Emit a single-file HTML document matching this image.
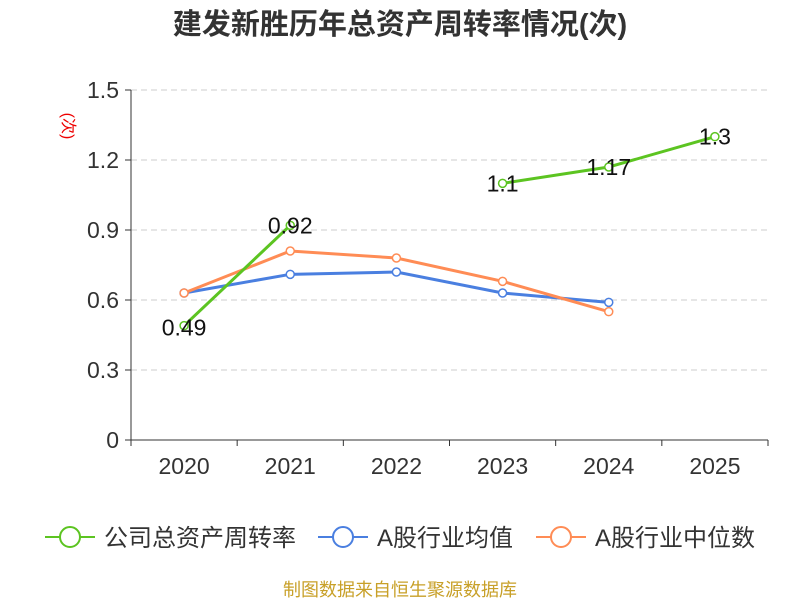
<!DOCTYPE html>
<html><head><meta charset="utf-8"><style>
body{margin:0;background:#fff;font-family:"Liberation Sans","Noto Sans CJK SC",sans-serif;}
svg text{font-family:"Liberation Sans","Noto Sans CJK SC",sans-serif;}
</style></head><body>
<svg id="c" width="800" height="600" xmlns="http://www.w3.org/2000/svg">
<text x="400" y="34" text-anchor="middle" font-size="29" font-weight="bold" fill="#333">建发新胜历年总资产周转率情况(次)</text>
<text transform="translate(63,126) rotate(90)" text-anchor="middle" font-size="16" fill="#e00">(次)</text>
<text x="400" y="596" text-anchor="middle" font-size="18" fill="#c8a028">制图数据来自恒生聚源数据库</text>
</svg>
<script>
const categories=["2020","2021","2022","2023","2024","2025"];
const company=[0.49,0.92,null,1.1,1.17,1.3];
const industryAvg=[0.63,0.71,0.72,0.63,0.59,null];
const industryMedian=[0.63,0.81,0.78,0.68,0.55,null];
const yTicks=[0,0.3,0.6,0.9,1.2,1.5];
const yTickLabels=["0","0.3","0.6","0.9","1.2","1.5"];
const companyLabels=["0.49","0.92","","1.1","1.17","1.3"];
const svg=document.getElementById('c');
const NS='http://www.w3.org/2000/svg';
const L=131,R=768,T=90,B=440;
const bw=(R-L)/categories.length;
const xs=i=>L+bw*(i+0.5);
const ys=v=>B-(v/1.5)*(B-T);
function mk(t,a,txt){const e=document.createElementNS(NS,t);for(const k in a)e.setAttribute(k,a[k]);if(txt!==undefined)e.textContent=txt;svg.appendChild(e);return e;}
yTicks.forEach((v,i)=>{
 if(v>0){const g=mk('line',{x1:L,x2:R,y1:ys(v),y2:ys(v),stroke:'#ccc','stroke-dasharray':'6,4'});
 
 }
 const tk=mk('line',{x1:L-6,x2:L,y1:ys(v),y2:ys(v),stroke:'#333'});
 
 
 const t=mk('text',{x:L-12,y:ys(v)+8,'text-anchor':'end','font-size':23,fill:'#333'},yTickLabels[i]);
 
 
});
const ya=mk('line',{x1:L,x2:L,y1:T,y2:B,stroke:'#333'});


const xa=mk('line',{x1:L,x2:R,y1:B,y2:B,stroke:'#333'});


for(let i=0;i<=categories.length;i++){const t=mk('line',{x1:L+bw*i,x2:L+bw*i,y1:B,y2:B+6,stroke:'#333'});
 
 }
categories.forEach((c,i)=>{const t=mk('text',{x:xs(i),y:B+34,'text-anchor':'middle','font-size':23,fill:'#333'},c);
 
 });
function series(vals,color,name){
 let segs=[],cur=[];
 vals.forEach((v,i)=>{if(v==null){if(cur.length)segs.push(cur);cur=[];}else cur.push([xs(i),ys(v)]);});
 if(cur.length)segs.push(cur);
 segs.forEach(s=>{if(s.length>1){const p=mk('polyline',{points:s.map(q=>q.join(',')).join(' '),fill:'none',stroke:color,'stroke-width':3});
  
  }});
 vals.forEach((v,i)=>{if(v==null)return;const c=mk('circle',{cx:xs(i),cy:ys(v),r:4,fill:'#fff',stroke:color,'stroke-width':1.5});
  
  });
}
series(industryAvg,'#4a7fe0','industry-average');
series(industryMedian,'#ff8c55','industry-median');
series(company,'#5cc421','company');
company.forEach((v,i)=>{if(v==null)return;const t=mk('text',{x:xs(i),y:ys(v)+(i==0?10:8),'text-anchor':'middle','font-size':23,fill:'#111'},companyLabels[i]);
 
 });
const leg=[['公司总资产周转率','#5cc421',45],['A股行业均值','#4a7fe0',318],['A股行业中位数','#ff8c55',536]];
leg.forEach(([n,c,x])=>{
 const l=mk('line',{x1:x,x2:x+50,y1:537,y2:537,stroke:c,'stroke-width':2});
 
 
 const ci=mk('circle',{cx:x+25,cy:537,r:10,fill:'#fff',stroke:c,'stroke-width':2});
 
 
 const t=mk('text',{x:x+59,y:546,'font-size':24,fill:'#333'},n);
 
 
});
</script>
</body></html>
